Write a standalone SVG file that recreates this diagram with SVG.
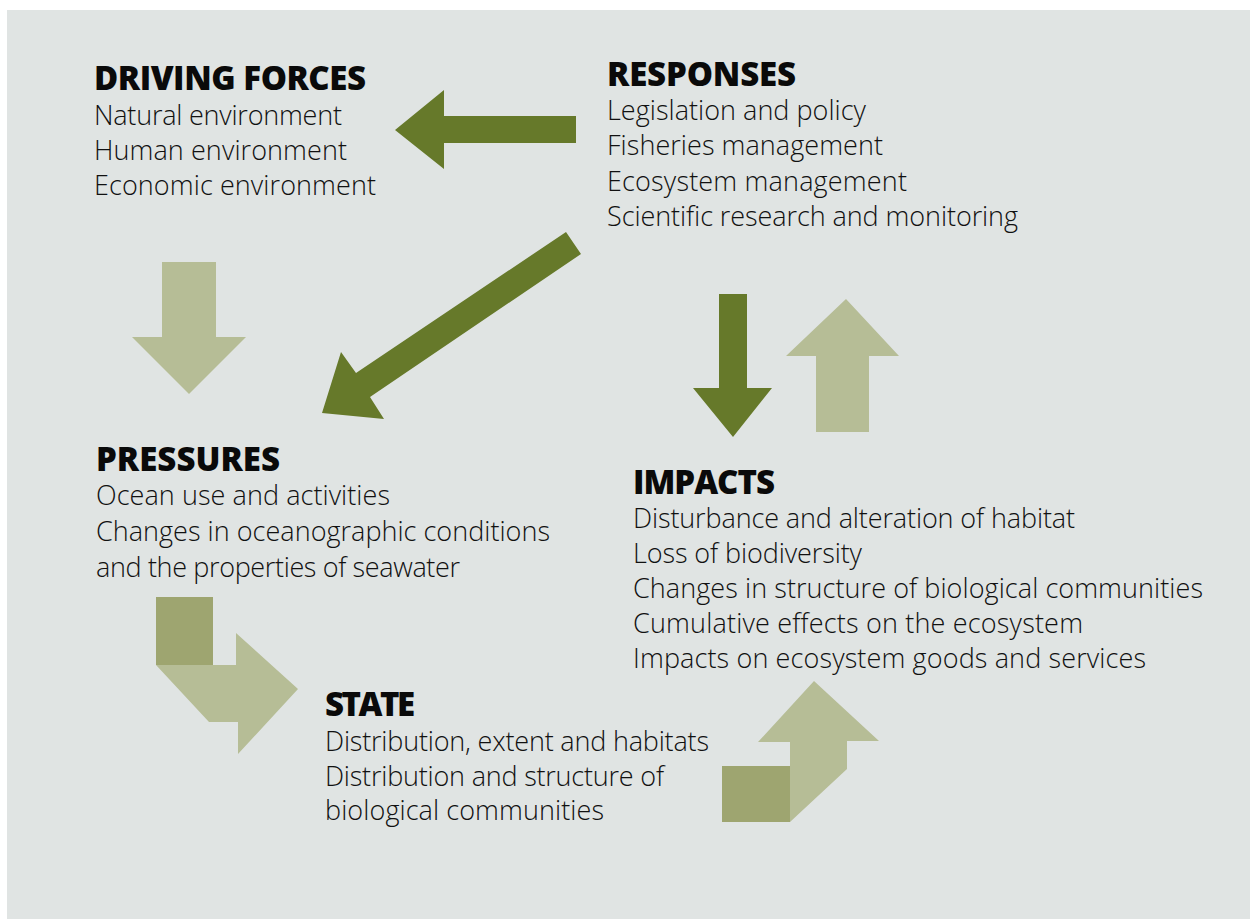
<svg xmlns="http://www.w3.org/2000/svg" width="1250" height="919" viewBox="0 0 1250 919">
<style>
.bg{fill:#e0e4e3}
.dark{fill:#66792a}
.light{fill:#b6bd96}
.sq{fill:#9ea570}
.t{font-family:"Open Sans","Liberation Sans",sans-serif;font-weight:800;font-size:33px;fill:#0a0a0a}
.b{font-family:"Open Sans","Liberation Sans",sans-serif;font-weight:300;font-size:27px;fill:#111}
</style>
<rect class="bg" x="7" y="10" width="1243" height="909"/>
<g id="connectors">
<polygon class="dark" points="576,116 444,116 444,90 395,130 444,169 444,143 576,143"/>
<polygon class="dark" points="566,232 581,254 370,397 384,419 322,413 341,352 356,373"/>
<polygon class="dark" points="719,294 747,294 747,388 772,388 733,437 693,388 719,388"/>
<polygon class="light" points="816,432 869,432 869,356 899,356 846,299 786,356 816,356"/>
<polygon class="light" points="162,262 216,262 216,337 246,337 189,394 132,337 162,337"/>
<g id="pressures-to-state">
<rect class="sq" x="156" y="597" width="57" height="68"/>
<polygon class="light" points="156,665 236,665 236,633 298,689 238,754 238,722 209,722"/>
</g>
<g id="state-to-impacts">
<rect class="sq" x="722" y="766" width="68" height="56"/>
<polygon class="light" points="790,822 847,769 847,741 879,741 814,681 758,742 790,742"/>
</g>
</g>
<g id="driving-forces">
<text class="t" x="94" y="90" textLength="272">DRIVING FORCES</text>
<text class="b" x="94" y="125" textLength="248">Natural environment</text>
<text class="b" x="94" y="160" textLength="253">Human environment</text>
<text class="b" x="94" y="195" textLength="282">Economic environment</text>
</g>
<g id="responses">
<text class="t" x="607" y="86" textLength="189">RESPONSES</text>
<text class="b" x="607" y="120" textLength="259">Legislation and policy</text>
<text class="b" x="607" y="155" textLength="276">Fisheries management</text>
<text class="b" x="607" y="191" textLength="300">Ecosystem management</text>
<text class="b" x="607" y="226" textLength="411">Scientific research and monitoring</text>
</g>
<g id="pressures">
<text class="t" x="96" y="471" textLength="184">PRESSURES</text>
<text class="b" x="96" y="505" textLength="294">Ocean use and activities</text>
<text class="b" x="96" y="541" textLength="454">Changes in oceanographic conditions</text>
<text class="b" x="96" y="577" textLength="364">and the properties of seawater</text>
</g>
<g id="impacts">
<text class="t" x="633" y="494" textLength="142">IMPACTS</text>
<text class="b" x="633" y="528" textLength="442">Disturbance and alteration of habitat</text>
<text class="b" x="633" y="563" textLength="229">Loss of biodiversity</text>
<text class="b" x="633" y="598" textLength="570">Changes in structure of biological communities</text>
<text class="b" x="633" y="633" textLength="450">Cumulative effects on the ecosystem</text>
<text class="b" x="633" y="668" textLength="513">Impacts on ecosystem goods and services</text>
</g>
<g id="state">
<text class="t" x="325" y="716" textLength="90">STATE</text>
<text class="b" x="325" y="751" textLength="384">Distribution, extent and habitats</text>
<text class="b" x="325" y="786" textLength="339">Distribution and structure of</text>
<text class="b" x="325" y="820" textLength="279">biological communities</text>
</g>
</svg>
